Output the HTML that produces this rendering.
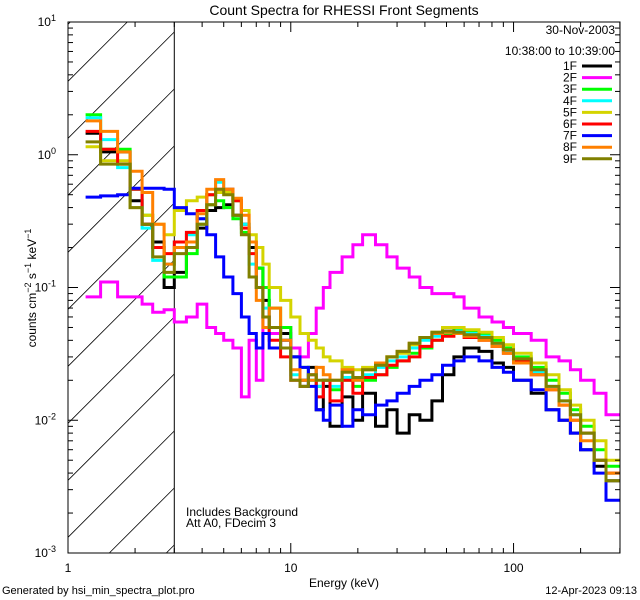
<!DOCTYPE html>
<html><head><meta charset="utf-8"><style>
html,body{margin:0;padding:0;background:#fff;width:640px;height:600px;overflow:hidden}
svg{display:block;font-family:"Liberation Sans",sans-serif;font-size:12px;overflow:hidden}
</style></head><body>
<svg id="chart" width="640" height="600">
<rect width="640" height="600" fill="#fff"/>
<text x="344" y="15" text-anchor="middle" font-size="14">Count Spectra for RHESSI Front Segments</text>
<g id="hatch"></g>
<g id="series"></g>
<g id="axes"></g>
<g id="legend"></g>
<text x="615" y="34" text-anchor="end">30-Nov-2003</text>
<text x="615" y="55" text-anchor="end">10:38:00 to 10:39:00</text>
<text x="186" y="516">Includes Background</text>
<text x="186" y="527">Att A0, FDecim 3</text>
<text x="344" y="587" text-anchor="middle">Energy (keV)</text>
<text transform="translate(36,288) rotate(-90)" text-anchor="middle">counts cm<tspan dy="-5" font-size="9">−2</tspan><tspan dy="5"> s</tspan><tspan dy="-5" font-size="9">−1</tspan><tspan dy="5"> keV</tspan><tspan dy="-5" font-size="9">−1</tspan></text>
<text x="2" y="594" font-size="11">Generated by hsi_min_spectra_plot.pro</text>
<text x="637" y="594" font-size="11" text-anchor="end">12-Apr-2023 09:13</text>
</svg>
<script>
const edges=[1.2,1.4,1.67,1.9,2.15,2.4,2.7,3.0,3.4,3.8,4.2,4.6,5.0,5.5,6.0,6.5,7.0,7.5,8,9,10,11,12,13,14,15,17,19,21,24,27,30,34,38,43,48,54,60,70,80,90,100,120,140,160,180,200,230,260,300];
const seriesNames=["1F","2F","3F","4F","5F","6F","7F","8F","9F"];
const seriesColors=["#000000","#ff00ff","#00ff00","#00ffff","#d4d400","#ff0000","#0000ff","#ff8000","#808000"];
const s1F=[1.45,1.05,1.05,0.45,0.3,0.22,0.1,0.13,0.2,0.28,0.38,0.4,0.42,0.35,0.3,0.2,0.14,0.08,0.05,0.045,0.03,0.02,0.025,0.012,0.018,0.009,0.015,0.01,0.016,0.009,0.012,0.008,0.011,0.01,0.014,0.022,0.03,0.035,0.033,0.027,0.025,0.02,0.016,0.012,0.01,0.008,0.006,0.0045,0.0035];
const s2F=[0.085,0.11,0.085,0.085,0.075,0.065,0.068,0.055,0.06,0.075,0.05,0.045,0.04,0.035,0.015,0.04,0.02,0.06,0.045,0.05,0.035,0.03,0.045,0.07,0.1,0.13,0.17,0.21,0.25,0.21,0.17,0.14,0.12,0.1,0.09,0.09,0.085,0.07,0.06,0.055,0.05,0.045,0.04,0.03,0.028,0.024,0.02,0.016,0.011];
const s3F=[2.0,1.1,1.1,0.55,0.35,0.2,0.12,0.12,0.18,0.3,0.42,0.45,0.4,0.33,0.26,0.22,0.14,0.1,0.07,0.05,0.03,0.025,0.02,0.018,0.02,0.017,0.02,0.018,0.02,0.022,0.025,0.028,0.032,0.035,0.04,0.045,0.048,0.047,0.045,0.04,0.035,0.03,0.025,0.02,0.016,0.012,0.009,0.006,0.0045];
const s4F=[1.9,1.3,0.8,0.55,0.28,0.16,0.15,0.22,0.25,0.33,0.5,0.62,0.55,0.45,0.3,0.15,0.1,0.07,0.05,0.04,0.022,0.018,0.02,0.018,0.02,0.018,0.021,0.02,0.022,0.025,0.028,0.03,0.035,0.04,0.043,0.046,0.047,0.045,0.043,0.038,0.033,0.028,0.023,0.018,0.014,0.011,0.008,0.005,0.004];
const s5F=[1.15,0.9,0.9,0.4,0.35,0.3,0.25,0.38,0.45,0.48,0.5,0.52,0.52,0.45,0.38,0.25,0.2,0.15,0.1,0.08,0.06,0.045,0.04,0.035,0.03,0.028,0.025,0.024,0.025,0.027,0.03,0.032,0.037,0.042,0.046,0.05,0.05,0.048,0.046,0.042,0.037,0.032,0.027,0.022,0.017,0.013,0.01,0.007,0.005];
const s6F=[1.5,1.1,0.85,0.55,0.3,0.2,0.18,0.22,0.26,0.38,0.5,0.55,0.55,0.45,0.28,0.18,0.1,0.06,0.04,0.03,0.02,0.018,0.022,0.015,0.02,0.014,0.02,0.016,0.021,0.022,0.026,0.028,0.03,0.036,0.04,0.043,0.045,0.042,0.04,0.036,0.032,0.028,0.022,0.017,0.013,0.01,0.008,0.005,0.004];
const s7F=[0.48,0.49,0.5,0.56,0.56,0.56,0.55,0.4,0.36,0.33,0.25,0.17,0.12,0.09,0.06,0.045,0.035,0.045,0.035,0.04,0.03,0.025,0.018,0.012,0.01,0.013,0.009,0.012,0.011,0.013,0.014,0.016,0.018,0.02,0.022,0.026,0.028,0.03,0.028,0.025,0.023,0.02,0.017,0.012,0.01,0.008,0.006,0.004,0.0025];
const s8F=[1.8,1.5,1.05,0.75,0.52,0.3,0.15,0.2,0.22,0.36,0.55,0.65,0.55,0.47,0.35,0.22,0.08,0.05,0.07,0.04,0.024,0.02,0.02,0.025,0.022,0.02,0.024,0.02,0.024,0.027,0.03,0.033,0.038,0.042,0.045,0.046,0.045,0.043,0.04,0.036,0.032,0.027,0.022,0.017,0.013,0.01,0.007,0.005,0.004];
const s9F=[1.25,0.85,0.85,0.4,0.3,0.17,0.13,0.18,0.2,0.3,0.42,0.55,0.5,0.35,0.25,0.12,0.1,0.06,0.05,0.035,0.02,0.018,0.022,0.02,0.02,0.02,0.023,0.021,0.024,0.026,0.03,0.033,0.038,0.042,0.046,0.047,0.046,0.044,0.042,0.038,0.034,0.029,0.024,0.018,0.014,0.011,0.008,0.005,0.0035];
const seriesValues=[s1F,s2F,s3F,s4F,s5F,s6F,s7F,s8F,s9F];
const xTickVals=[1,10,100];
const xTickLabels=["1","10","100"];
const yTickExps=[1,0,-1,-2,-3];

const NS="http://www.w3.org/2000/svg";
const L=68,R=620,T=22,B=553;
const xMin=0,xMax=Math.log10(300.5),yMin=-3,yMax=1;
function X(e){return L+(Math.log10(e)-xMin)/(xMax-xMin)*(R-L);}
function Y(v){return B-(Math.log10(v)-yMin)/(yMax-yMin)*(B-T);}
function mk(tag,attrs,parent){const el=document.createElementNS(NS,tag);for(const k in attrs)el.setAttribute(k,attrs[k]);parent.appendChild(el);return el;}

const hg=document.getElementById('hatch');
const W=X(3)-L;
for(let y0=B+W-8;y0>T;y0-=57){
  let x1=L,y1=y0,x2=L+W,y2=y0-W;
  if(y1>B){x1=L+(y1-B);y1=B;}
  if(y2<T){x2=L+(y0-T);y2=T;}
  const ln=mk('line',{x1:x1,y1:y1,x2:x2,y2:y2,stroke:'#000','stroke-width':0.8},hg);
  
  
}
const bl=mk('line',{x1:X(3),y1:T,x2:X(3),y2:B,stroke:'#000','stroke-width':1},hg);



const sg=document.getElementById('series');
const scp=mk('clipPath',{id:'pclip'},sg);
mk('rect',{x:L,y:T,width:R-L,height:B-T},scp);
const sgc=mk('g',{'clip-path':'url(#pclip)'},sg);
seriesValues.forEach((vals,i)=>{
  let d='';
  vals.forEach((v,j)=>{
    const x0=X(edges[j]),x1=X(edges[j+1]),y=Y(v);
    d+=(j===0?'M':'L')+x0.toFixed(1)+' '+y.toFixed(1)+' L'+x1.toFixed(1)+' '+y.toFixed(1)+' ';
  });
  const p=mk('path',{d:d,fill:'none',stroke:seriesColors[i],'stroke-width':3,'stroke-linejoin':'miter'},sgc);
  
  
});

const ag=document.getElementById('axes');
const frame=mk('rect',{x:L,y:T,width:R-L,height:B-T,fill:'none',stroke:'#000','stroke-width':1},ag);


for(let dec=0;dec<3;dec++){
  for(let m=1;m<10;m++){
    const e=Math.pow(10,dec)*m; if(e>300)break;
    const x=X(e),len=m===1?10:5;
    mk('line',{x1:x,y1:B,x2:x,y2:B-len,stroke:'#000'},ag);
    mk('line',{x1:x,y1:T,x2:x,y2:T+len,stroke:'#000'},ag);
  }
}
xTickVals.forEach((v,i)=>{
  const t=mk('text',{x:X(v),y:572,'text-anchor':'middle'},ag);
  t.textContent=xTickLabels[i];
  
  
});
for(let ex=-3;ex<1;ex++){
  for(let m=1;m<10;m++){
    const y=Y(Math.pow(10,ex)*m),len=m===1?10:5;
    mk('line',{x1:L,y1:y,x2:L+len,y2:y,stroke:'#000'},ag);
    mk('line',{x1:R,y1:y,x2:R-len,y2:y,stroke:'#000'},ag);
  }
}
yTickExps.forEach(ex=>{
  const t=mk('text',{x:56,y:Y(Math.pow(10,ex))+4,'text-anchor':'end'},ag);
  t.innerHTML='10<tspan dy="-5" font-size="9">'+ex+'</tspan>';
  
  
});

const lg=document.getElementById('legend');
seriesNames.forEach((n,i)=>{
  const y=66+i*11.6;
  const g=mk('g',{},lg);
  
  
  const t=mk('text',{x:577,y:y+4,'text-anchor':'end'},g);
  t.textContent=n;
  mk('line',{x1:582,y1:y,x2:612,y2:y,stroke:seriesColors[i],'stroke-width':3},g);
});
</script>
</body></html>
